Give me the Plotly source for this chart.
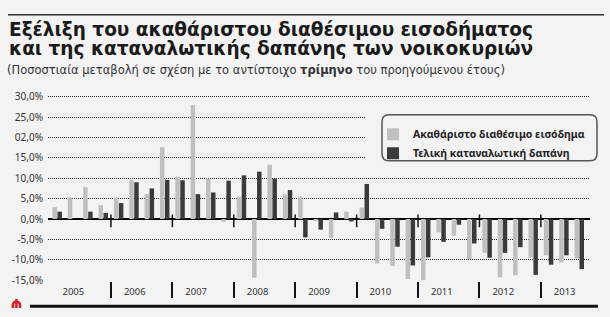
import plotly.graph_objects as go

# ---------------- data ----------------
years = ["2005", "2006", "2007", "2008", "2009", "2010", "2011", "2012", "2013"]
income = [2.9, 5.3, 7.8, 3.4,
          5.3, 9.6, 6.1, 17.6,
          10.4, 27.9, 9.9, -0.7,
          5.5, -14.4, 13.3, 6.0,
          5.5, -0.4, -4.6, 1.8,
          2.8, -10.9, -11.5, -14.7,
          -15.0, -3.3, -4.1, -9.8,
          -8.3, -14.3, -13.8, -9.5,
          -8.9, -10.6, -9.7]
consumption = [1.8, 0.0, 1.8, 1.5,
               3.9, 9.0, 7.5, 9.6,
               9.5, 6.1, 6.5, 9.4,
               10.7, 11.6, 9.9, 7.1,
               -4.5, -2.6, 1.6, -0.6,
               8.6, -2.4, -6.8, -11.4,
               -9.4, -5.6, -1.4, -6.0,
               -9.5, -8.3, -6.9, -13.7,
               -11.2, -8.9, -12.3]
ytick_vals = [30, 25, 20, 15, 10, 5, 0, -5, -10, -15]
ytick_text = ["30,0%", "25,0%", "02,0%", "15,0%", "10,0%", "5,0%", "0,0%", "-5,0%", "-10,0%", "-15,0%"]
name_income = "Ακαθάριστο διαθέσιμο εισόδημα"
name_cons = "Τελική καταναλωτική δαπάνη"
title1 = "Εξέλιξη του ακαθάριστου διαθέσιμου εισοδήματος"
title2 = "και της καταναλωτικής δαπάνης των νοικοκυριών"
subtitle = "(Ποσοστιαία μεταβολή σε σχέση με το αντίστοιχο <b>τρίμηνο</b> του προηγούμενου έτους)"

# ---------------- layout helpers ----------------
W, H = 610, 317
L, R, T, B = 48, 590, 95.4, 280.8
BG = "#f3f3f3"


def px(x):
    return (x - L) / (R - L)


def py(y):
    return (B - y) / (B - T)


qx = list(range(len(income)))
boundaries = [4 * k - 0.5 for k in range(1, len(years))]
year_pos = [4 * k + 1.05 for k in range(len(years))]

fig = go.Figure()
fig.add_trace(go.Bar(x=qx, y=income, name=name_income, marker=dict(color="#bfbfbf", line=dict(width=0))))
fig.add_trace(go.Bar(x=qx, y=consumption, name=name_cons, marker=dict(color="#3a3a3a", line=dict(width=0))))

shapes = []
# year separators crossing the zero line
for b in boundaries:
    shapes.append(dict(type="line", xref="x", yref="y", x0=b, x1=b, y0=1.1, y1=-2.0,
                       line=dict(color="#111", width=1.5)))
# legend cover + rounded frame
shapes.append(dict(type="rect", xref="paper", yref="paper", x0=px(365), x1=px(598), y0=py(171), y1=py(103),
                   fillcolor=BG, line=dict(width=0), layer="above"))


def rounded(x0, y0, x1, y1, r):
    rx = r / (R - L)
    ry = r / (B - T)
    X0, X1 = px(x0), px(x1)
    Y0, Y1 = py(y1), py(y0)  # bottom, top in paper
    return (f"M {X0+rx},{Y1} L {X1-rx},{Y1} Q {X1},{Y1} {X1},{Y1-ry} "
            f"L {X1},{Y0+ry} Q {X1},{Y0} {X1-rx},{Y0} L {X0+rx},{Y0} "
            f"Q {X0},{Y0} {X0},{Y0+ry} L {X0},{Y1-ry} Q {X0},{Y1} {X0+rx},{Y1} Z")


shapes.append(dict(type="path", xref="paper", yref="paper", path=rounded(382, 115, 597, 161, 7),
                   line=dict(color="#555", width=1.5), layer="above"))
# top and bottom rules
shapes.append(dict(type="line", xref="paper", yref="paper", x0=px(8), x1=px(604), y0=py(15.5), y1=py(15.5),
                   line=dict(color="#333", width=1.5)))
shapes.append(dict(type="line", xref="paper", yref="paper", x0=px(30), x1=px(598), y0=py(306), y1=py(306),
                   line=dict(color="#111", width=3)))

annotations = [
    dict(text=title1, x=px(7), y=py(30), xref="paper", yref="paper", xanchor="left", yanchor="middle",
         showarrow=False, font=dict(family="DejaVu Sans", size=18.5, color="#1a1a1a", weight="bold")),
    dict(text=title2, x=px(7), y=py(49.5), xref="paper", yref="paper", xanchor="left", yanchor="middle",
         showarrow=False, font=dict(family="DejaVu Sans", size=18.5, color="#1a1a1a", weight="bold")),
    dict(text=subtitle, x=px(5), y=py(70), xref="paper", yref="paper", xanchor="left", yanchor="middle",
         showarrow=False, font=dict(family="DejaVu Sans", size=11.5, color="#333")),
    dict(text="<b>Ψ</b>", textangle=180, x=px(17), y=py(303), xref="paper", yref="paper",
         xanchor="center", yanchor="middle", showarrow=False,
         font=dict(family="DejaVu Sans", size=13, color="#d42020")),
]

fig.update_layout(
    width=W, height=H,
    margin=dict(l=L, r=W - R, t=T, b=H - B, pad=0),
    paper_bgcolor=BG, plot_bgcolor=BG,
    barmode="group", bargap=0.35, bargroupgap=0.1,
    showlegend=True,
    legend=dict(x=px(373), y=py(120), xanchor="left", yanchor="top", bgcolor="rgba(0,0,0,0)",
                font=dict(family="Noto Sans", size=10.5, color="#222", weight="bold"),
                tracegroupgap=0, itemwidth=30),
    shapes=shapes, annotations=annotations,
    xaxis=dict(range=[-0.6, 34.7], tickmode="array", tickvals=year_pos, ticktext=years, ticks="",
               showgrid=False, zeroline=False, showline=False, ticklabelstandoff=3,
               tickfont=dict(family="Noto Sans", size=9.5, color="#333"),
               minor=dict(tickmode="array", tickvals=boundaries, ticks="outside", ticklen=16,
                          tickcolor="#111", tickwidth=1.5, showgrid=False)),
    yaxis=dict(range=[-15.2, 30.4], tickmode="array", tickvals=ytick_vals, ticktext=ytick_text, ticks="",
               showgrid=True, gridcolor="#222", gridwidth=1, griddash="1px,1px",
               zeroline=True, zerolinecolor="#000", zerolinewidth=1.5, showline=False,
               tickfont=dict(family="Noto Sans", size=10, color="#333"), ticklabelstandoff=4),
)

fig.write_html("out.html")
